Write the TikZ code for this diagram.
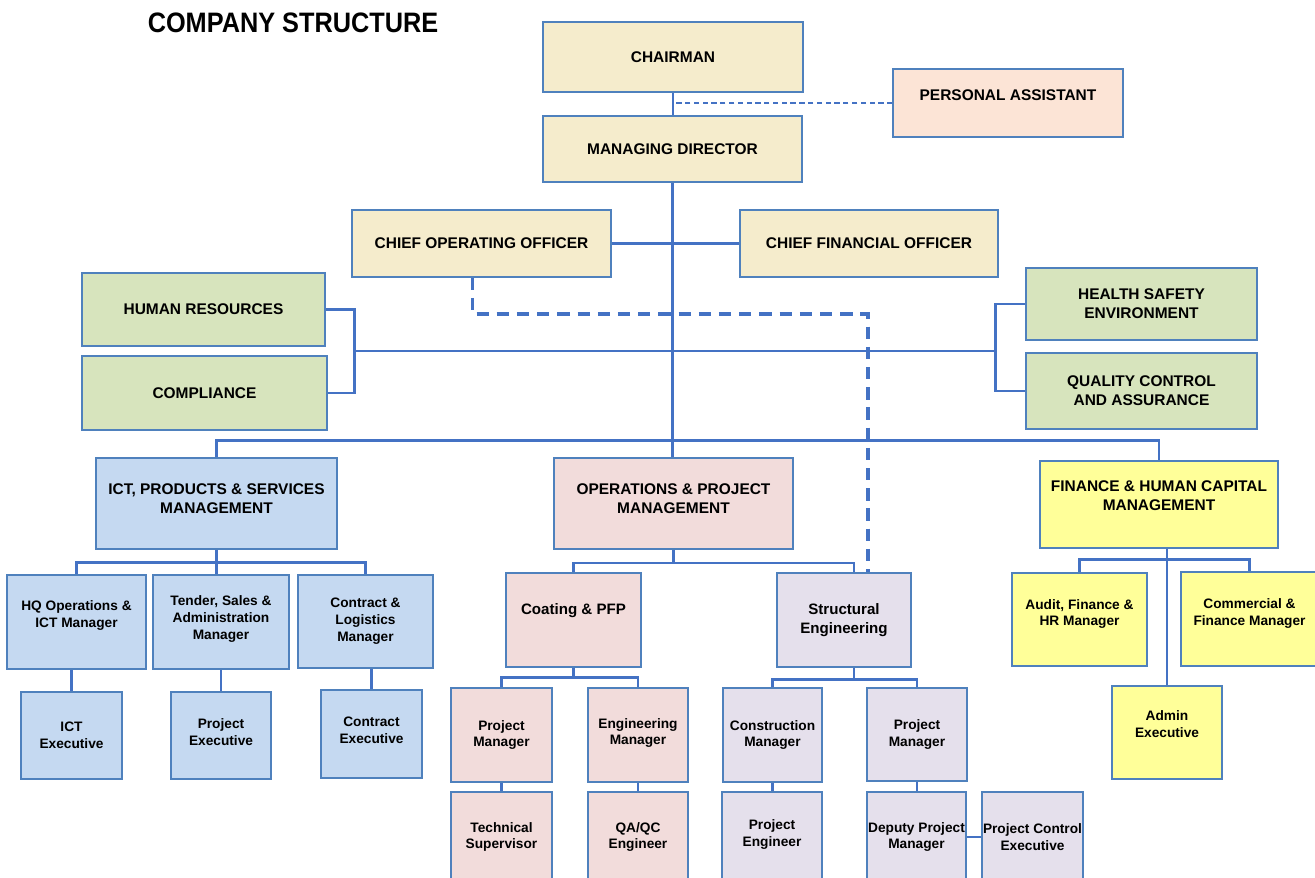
\documentclass[tikz,border=0pt]{standalone}
\usepackage{fontspec}
\setmainfont{Liberation Sans}
\newfontfamily\titlefont[FakeStretch=0.9]{Liberation Sans}
\usetikzlibrary{calc}

\definecolor{boxline}{RGB}{79,129,189}
\definecolor{linkblue}{RGB}{68,114,196}
\definecolor{tanfill}{RGB}{245,236,204}
\definecolor{peachfill}{RGB}{252,228,214}
\definecolor{greenfill}{RGB}{215,228,189}
\definecolor{bluefill}{RGB}{197,217,241}
\definecolor{pinkfill}{RGB}{242,220,219}
\definecolor{lilacfill}{RGB}{229,224,236}
\definecolor{yellowfill}{RGB}{255,255,153}

\tikzset{
  box/.style={draw=boxline, line width=0.7pt, inner sep=0pt, align=center,
    font=\bfseries\fontsize{7.8}{9.6}\selectfont},
  capbox/.style={box, font=\bfseries\fontsize{8.8}{10.8}\selectfont},
  midbox/.style={box, font=\bfseries\fontsize{8.6}{10.8}\selectfont},
  wh/.style 2 args={minimum width={#1*0.02cm}, minimum height={#2*0.02cm}},
  lift/.style={text depth=#1},
  link/.style={draw=linkblue, line width=1.3pt},
  palink/.style={draw=linkblue, line width=0.6pt, dash pattern=on 3pt off 2pt},
  dashlink/.style={draw=linkblue, line width=1.8pt, dash pattern=on 7pt off 4.5pt},
}

\begin{document}
\begin{tikzpicture}[x=0.02cm, y=-0.02cm]
  \useasboundingbox (0,0) rectangle (1315,877);
  \fill[white] (0,0) rectangle (1315,877);
  \clip (0,0) rectangle (1315,877);

  %title
  \node[font=\titlefont\bfseries\fontsize{16}{18}\selectfont] (title) at (293,23) {COMPANY STRUCTURE};

  %top management
  \node[capbox, fill=tanfill, wh={260}{70}] (chair) at (673,57) {CHAIRMAN};
  \node[capbox, fill=peachfill, wh={230}{68}, lift=9pt] (pa) at (1008,103) {PERSONAL ASSISTANT};
  \node[capbox, fill=tanfill, wh={259}{66}] (md) at (672.5,149) {MANAGING DIRECTOR};
  \node[capbox, fill=tanfill, wh={259}{67}] (coo) at (481.5,243.5) {CHIEF OPERATING OFFICER};
  \node[capbox, fill=tanfill, wh={258}{67}] (cfo) at (869,243.5) {CHIEF FINANCIAL OFFICER};

  %support units
  \node[capbox, fill=greenfill, wh={243}{73}] (hr) at (203.5,309.5) {HUMAN RESOURCES};
  \node[capbox, fill=greenfill, wh={245}{74}] (comp) at (204.5,393) {COMPLIANCE};
  \node[capbox, fill=greenfill, wh={231}{72}] (hse) at (1141.5,304) {HEALTH SAFETY\\ENVIRONMENT};
  \node[capbox, fill=greenfill, wh={231}{76}] (qca) at (1141.5,391) {QUALITY CONTROL\\AND ASSURANCE};

  %departments
  \node[capbox, fill=bluefill, wh={241}{91}, lift=6pt] (ict) at (216.5,503.5) {ICT, PRODUCTS \& SERVICES\\MANAGEMENT};
  \node[capbox, fill=pinkfill, wh={239}{91}, lift=6pt] (opm) at (673.5,503.5) {OPERATIONS \& PROJECT\\MANAGEMENT};
  \node[capbox, fill=yellowfill, wh={238}{87}, lift=10.5pt] (fhc) at (1159,504.5) {FINANCE \& HUMAN CAPITAL\\MANAGEMENT};

  %ict branch
  \node[box, fill=bluefill, wh={139}{94}, lift=9.5pt] (hq) at (76.5,622) {HQ Operations \&\\ICT Manager};
  \node[box, fill=bluefill, wh={136}{94}, lift=5pt] (tender) at (221,622) {Tender, Sales \&\\Administration\\Manager};
  \node[box, fill=bluefill, wh={135}{93}] (cl) at (365.5,621.5) {Contract \&\\Logistics\\Manager};
  \node[box, fill=bluefill, wh={101}{87}] (ictx) at (71.5,735.5) {ICT\\Executive};
  \node[box, fill=bluefill, wh={100}{87}, lift=4pt] (prjx) at (221,735.5) {Project\\Executive};
  \node[box, fill=bluefill, wh={101}{88}, lift=4pt] (conx) at (371.5,734) {Contract\\Executive};

  %operations branch
  \node[midbox, fill=pinkfill, wh={135}{94}, lift=13pt] (coat) at (573.5,620) {Coating \& PFP};
  \node[midbox, fill=lilacfill, wh={134}{94}] (struct) at (844,620) {Structural\\Engineering};
  \node[box, fill=pinkfill, wh={101}{94}] (pm1) at (501.5,735) {Project\\Manager};
  \node[box, fill=pinkfill, wh={100}{94}, lift=4pt] (em) at (638,735) {Engineering\\Manager};
  \node[box, fill=lilacfill, wh={99}{94}] (cm) at (772.5,735) {Construction\\Manager};
  \node[box, fill=lilacfill, wh={100}{93}] (pm2) at (917,734.5) {Project\\Manager};
  \node[box, fill=pinkfill, wh={101}{90}] (ts) at (501.5,837) {Technical\\Supervisor};
  \node[box, fill=pinkfill, wh={100}{90}] (qa) at (638,837) {QA/QC\\Engineer};
  \node[box, fill=lilacfill, wh={100}{90}, lift=5pt] (pe) at (772,837) {Project\\Engineer};
  \node[box, fill=lilacfill, wh={99}{90}] (dpm) at (916.5,837) {Deputy Project\\Manager};
  \node[box, fill=lilacfill, wh={101}{90}] (pce) at (1032.5,837) {Project Control\\Executive};

  %finance branch
  \node[box, fill=yellowfill, wh={135}{93}, lift=8pt] (audit) at (1079.5,619.5) {Audit, Finance \&\\HR Manager};
  \node[box, fill=yellowfill, wh={137}{94}, lift=8pt] (comm) at (1249.5,619) {Commercial \&\\Finance Manager};
  \node[box, fill=yellowfill, wh={110}{93}, lift=9.5pt] (admin) at (1167,732.5) {Admin\\Executive};

  %top links
  \draw[link] (chair.south) -- (chair.south |- md.north);
  \draw[palink] (pa.west) -- (pa.west -| chair.south);
  \draw[link] (md.south) -- (md.south |- opm.north);
  \draw[link] (coo.east) -- (cfo.west);
  \coordinate (dashturn) at (868,314);
  \draw[dashlink] ([xshift=-0.18cm]coo.south) |- (dashturn) -- (dashturn |- struct.north);

  %support brackets
  \coordinate (brL) at (354,351);
  \coordinate (brR) at (996,351);
  \draw[link] (hr.east) -- ++(29,0) |- (comp.east);
  \draw[link] (hse.west) -- ++(-30,0) |- (qca.west);
  \draw[link] (brL) -- (brR);

  %department bus
  \draw[link] (ict.north) -- ++(0,-17) -| (fhc.north);

  %ict branch links
  \draw[link] (hq.north) -- ++(0,-12) -| (cl.north);
  \draw[link] (ict.south) -- (ict.south |- tender.north);
  \draw[link] (ictx.north) -- (ictx.north |- hq.south);
  \draw[link] (tender.south) -- (prjx.north);
  \draw[link] (conx.north) -- (conx.north |- cl.south);

  %operations branch links
  \coordinate (sbus) at (854,563);
  \draw[link] (coat.north) |- (sbus) -- (sbus |- struct.north);
  \draw[link] (opm.south) -- (opm.south |- sbus);
  \draw[link] (pm1.north) -- ++(0,-10) -| (em.north);
  \draw[link] (coat.south) -- ++(0,11);
  \draw[link] (cm.north) -- ++(0,-8) -| (pm2.north);
  \draw[link] (struct.south -| sbus) -- ++(0,13);
  \draw[link] (pm1.south) -- (ts.north);
  \draw[link] (em.south) -- (qa.north);
  \draw[link] (cm.south) -- (cm.south |- pe.north);
  \draw[link] (pm2.south) -- (pm2.south |- dpm.north);
  \draw[link] (dpm.east) -- (pce.west);

  %finance branch links
  \draw[link] (audit.north) -- ++(0,-13) -| (comm.north);
  \draw[link] (admin.north) -- (admin.north |- fhc.south);
\end{tikzpicture}
\end{document}
